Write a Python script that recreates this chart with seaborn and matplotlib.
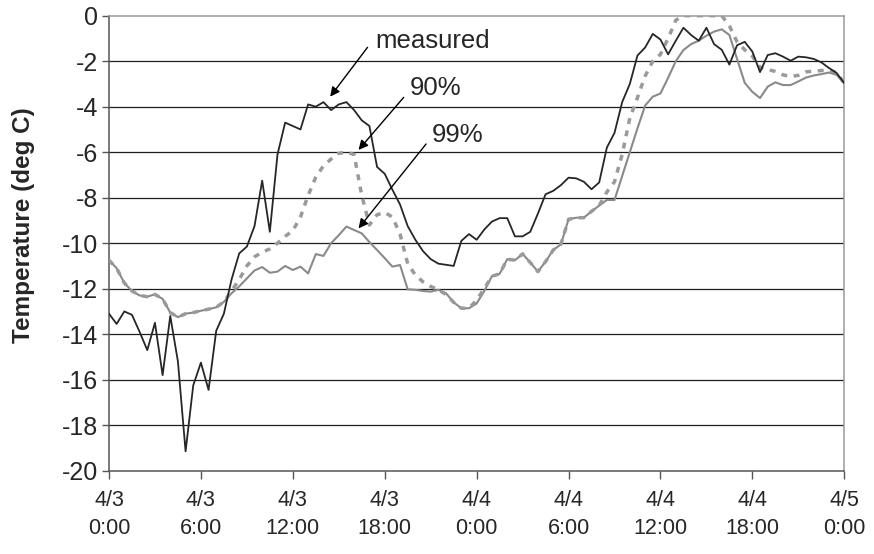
import numpy as np
import pandas as pd
import matplotlib
matplotlib.use("Agg")
import matplotlib.pyplot as plt
import seaborn as sns
from matplotlib import font_manager

# half-hourly readings, 4/3 0:00 through 4/5 0:00
hours = np.arange(97) * 0.5

measured = [
    -13.1, -13.55, -13.0, -13.15, -13.9, -14.7, -13.5, -15.8, -13.2, -15.2,
    -19.15, -16.25, -15.25, -16.45, -13.85, -13.1, -11.6, -10.45, -10.15, -9.25,
    -7.25, -9.5, -6.1, -4.7, -4.85, -5.0, -3.9, -4.0, -3.8, -4.15,
    -3.9, -3.8, -4.15, -4.6, -4.85, -6.65, -6.95, -7.65, -8.3, -9.25,
    -9.85, -10.35, -10.7, -10.9, -10.95, -11.0, -9.9, -9.6, -9.85, -9.4,
    -9.05, -8.9, -8.9, -9.7, -9.7, -9.5, -8.7, -7.85, -7.7, -7.45,
    -7.12, -7.15, -7.3, -7.63, -7.33, -5.8, -5.15, -3.8, -3.0, -1.75,
    -1.4, -0.8, -1.05, -1.7, -1.1, -0.53, -0.85, -1.1, -0.53, -1.25,
    -1.5, -2.15, -1.3, -1.15, -1.58, -2.48, -1.73, -1.65, -1.8, -1.98,
    -1.8, -1.83, -1.9, -2.05, -2.3, -2.52, -2.97,
]

p90 = [
    -10.75, -11.1, -11.75, -12.1, -12.3, -12.35, -12.25, -12.45, -13.05, -13.25,
    -13.1, -13.05, -12.97, -12.9, -12.82, -12.58, -12.1, -11.6, -11.0, -10.6,
    -10.4, -10.25, -10.0, -9.7, -9.45, -8.85, -7.9, -7.1, -6.6, -6.3,
    -6.05, -6.0, -6.1, -7.9, -9.2, -8.75, -8.65, -8.85, -9.6, -10.9,
    -11.4, -11.7, -11.9, -12.05, -12.25, -12.6, -12.86, -12.86, -12.5, -12.0,
    -11.45, -11.35, -10.7, -10.75, -10.47, -10.85, -11.25, -10.81, -10.3, -10.05,
    -8.95, -8.88, -8.88, -8.6, -8.35, -7.75, -7.3, -6.1, -4.5, -3.6,
    -2.65, -2.0, -1.7, -1.0, -0.2, 0.0, 0.0, 0.0, 0.0, 0.0,
    0.0, -0.45, -1.15, -1.5, -1.78, -2.27, -2.37, -2.45, -2.6, -2.68,
    -2.62, -2.47, -2.44, -2.41, -2.39, -2.5, -2.97,
]

p99 = [
    -10.75, -11.1, -11.75, -12.1, -12.3, -12.35, -12.25, -12.45, -13.05, -13.25,
    -13.1, -13.05, -12.97, -12.9, -12.82, -12.58, -12.2, -11.9, -11.55, -11.2,
    -11.05, -11.3, -11.25, -11.0, -11.18, -11.03, -11.33, -10.48, -10.56, -10.0,
    -9.65, -9.27, -9.42, -9.57, -9.95, -10.3, -10.66, -11.03, -10.96, -12.03,
    -12.05, -12.1, -12.13, -12.05, -12.2, -12.6, -12.86, -12.86, -12.65, -12.1,
    -11.45, -11.35, -10.7, -10.75, -10.47, -10.85, -11.25, -10.81, -10.3, -10.05,
    -8.95, -8.88, -8.88, -8.6, -8.35, -8.1, -8.1, -7.05, -6.0, -4.95,
    -3.95, -3.56, -3.42, -2.73, -2.0, -1.51, -1.25, -1.1, -0.88, -0.7,
    -0.6, -0.85, -1.9, -2.95, -3.35, -3.62, -3.12, -2.93, -3.05, -3.05,
    -2.89, -2.72, -2.63, -2.57, -2.5, -2.6, -2.97,
]

tick_hours = [0, 6, 12, 18, 24, 30, 36, 42, 48]
tick_labels = ["4/3\n0:00", "4/3\n6:00", "4/3\n12:00", "4/3\n18:00",
               "4/4\n0:00", "4/4\n6:00", "4/4\n12:00", "4/4\n18:00", "4/5\n0:00"]
y_ticks = list(range(-20, 1, 2))

df = pd.DataFrame({"hours": hours, "measured": measured, "90%": p90, "99%": p99})

sns.set_style("ticks")
plt.rcParams["font.family"] = ["Liberation Sans", "DejaVu Sans"]

installed = {f.name for f in font_manager.fontManager.ttflist}
x_family = "Liberation Sans Narrow" if "Liberation Sans Narrow" in installed else "Liberation Sans"

fig = plt.figure(figsize=(8.74, 5.54), dpi=100)
ax = fig.add_axes([0.1247, 0.1504, 0.8413, 0.8213])

for y in y_ticks[1:-1]:
    ax.axhline(y, color="#1e1e1e", linewidth=0.9, zorder=1)

sns.lineplot(data=df, x="hours", y="99%", color="#8a8a8a", linewidth=1.5, ax=ax, zorder=3)
sns.lineplot(data=df, x="hours", y="90%", color="#9a9a9a", linewidth=2.5,
             linestyle=(0, (1.7, 1.9)), ax=ax, zorder=4)
sns.lineplot(data=df, x="hours", y="measured", color="#262626", linewidth=1.3, ax=ax, zorder=5)

ax.set_xlim(0, 48)
ax.set_ylim(-20, 0)
ax.set_xticks(tick_hours)
ax.set_xticklabels(tick_labels, family=x_family, fontsize=15.5, linespacing=1.45)
ax.set_yticks(y_ticks)
ax.set_yticklabels([str(v) for v in y_ticks], fontsize=18)
ax.set_xlabel("")
ax.set_ylabel("Temperature (deg C)", fontsize=17.5, fontweight="bold")
ax.yaxis.set_label_coords(-0.101, 0.54)

ax.tick_params(axis="x", direction="out", length=6, width=1, color="#555555", pad=8)
ax.tick_params(axis="y", direction="out", length=5, width=1, color="#555555", pad=3)

for side in ("left", "bottom"):
    ax.spines[side].set_color("#555555")
    ax.spines[side].set_linewidth(1.1)
for side in ("top", "right"):
    ax.spines[side].set_visible(True)
    ax.spines[side].set_color("#9a9a9a")
    ax.spines[side].set_linewidth(1.1)

arrow = dict(arrowstyle="-|>", color="black", lw=1.0, mutation_scale=14,
             shrinkA=0, shrinkB=0)
callouts = [
    ("measured", (21.14, -1.40), (16.88, -1.39), (14.44, -3.56)),
    ("90%", (21.3, -3.49), (19.24, -3.59), (16.29, -5.90)),
    ("99%", (22.75, -5.54), (20.70, -5.64), (16.29, -9.35)),
]
for label, text_xy, tail, head in callouts:
    ax.text(text_xy[0], text_xy[1], label, fontsize=18.5, ha="center", va="baseline", zorder=6)
    ax.annotate("", xy=head, xytext=tail, arrowprops=arrow, zorder=6)

fig.savefig("out.png", dpi=100)
